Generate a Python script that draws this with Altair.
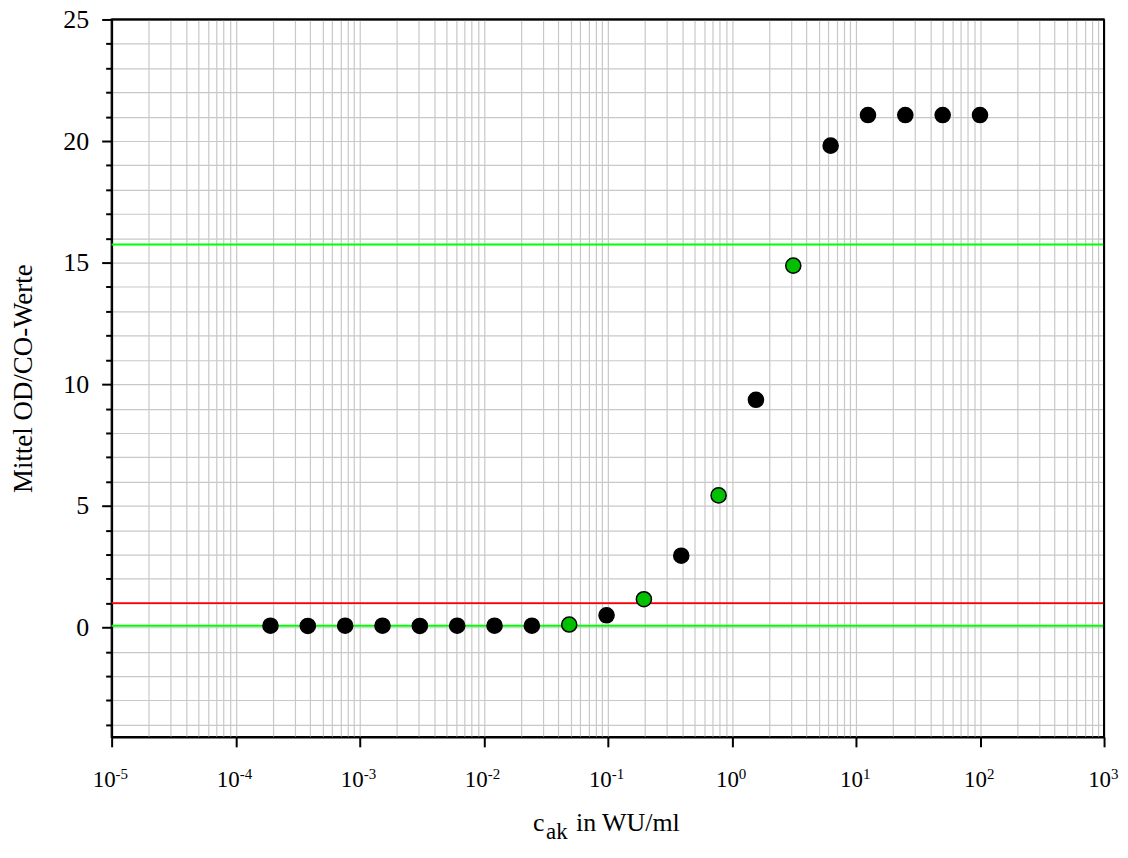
import altair as alt
import pandas as pd

# ---- data ----
conc = [100, 50, 25, 12.5, 6.25, 3.125, 1.5625, 0.78125, 0.390625, 0.1953125,
        0.09765625, 0.048828125, 0.0244140625, 0.01220703125, 0.006103515625,
        0.0030517578125, 0.00152587890625, 0.000762939453125,
        0.0003814697265625, 0.00019073486328125]
mean_od = [21.07, 21.07, 21.07, 21.07, 19.81, 14.88, 9.36, 5.43, 2.95, 1.16,
           0.50, 0.12, 0.07, 0.07, 0.07, 0.06, 0.07, 0.07, 0.06, 0.07]
point_fill = ["black", "black", "black", "black", "black", "#00c000", "black",
              "#00c000", "black", "#00c000", "black", "#00c000", "black", "black",
              "black", "black", "black", "black", "black", "black"]

thr_values = [15.75, 1.0, 0.07]
thr_colors = ["#00ff00", "#ff0000", "#00ff00"]

decades = [-5, -4, -3, -2, -1, 0, 1, 2, 3]

# ---- tables ----
pts = pd.DataFrame({"c": conc, "y": mean_od, "fill": point_fill})
thr = pd.DataFrame({"y": thr_values, "color": thr_colors})
lab = pd.DataFrame({"x": [10.0 ** e for e in decades],
                    "base": ["10"] * len(decades),
                    "exp": [str(e) for e in decades],
                    "neg": [e < 0 for e in decades]})

grid_vals = [m * 10.0 ** k for k in range(-5, 3) for m in range(1, 10)] + [1000.0]
y_vals = list(range(-4, 26))

FONT = "Liberation Serif"
W, H = 996, 720

xscale = alt.Scale(type="log", domain=[1e-5, 1e3], nice=False)
yscale = alt.Scale(domain=[-4.5, 25], nice=False, zero=False)

x_axis = alt.Axis(
    values=grid_vals, labels=False, title="", grid=True,
    gridColor="#c8c8c8", gridWidth=1.2,
    domainColor="black", domainWidth=2,
    tickColor="black", tickWidth=2, tickSize=10,
    tickOpacity={"condition": {
        "test": "abs(log(datum.value)/LN10 - round(log(datum.value)/LN10)) < 1e-6",
        "value": 1}, "value": 0},
)
y_axis = alt.Axis(
    values=y_vals, grid=True, gridColor="#c8c8c8", gridWidth=1.2,
    domainColor="black", domainWidth=2,
    tickColor="black", tickWidth=2,
    tickSize={"condition": {"test": "datum.value % 5 === 0", "value": 10}, "value": 6},
    labelExpr="datum.value % 5 === 0 ? datum.label : ''",
    labelFont=FONT, labelFontSize=26, labelColor="black", labelPadding=13,
    title="Mittel OD/CO-Werte", titleFont=FONT, titleFontSize=27,
    titleFontWeight="normal", titleColor="black", titlePadding=25,
)

rules = alt.Chart(thr).mark_rule(strokeWidth=2).encode(
    y=alt.Y("y:Q", scale=yscale, axis=y_axis),
    color=alt.Color("color:N", scale=None),
)

points = alt.Chart(pts).mark_point(filled=True, size=230, stroke="black",
                                   strokeWidth=1.5, opacity=1).encode(
    x=alt.X("c:Q", scale=xscale, axis=x_axis),
    y=alt.Y("y:Q", scale=yscale, axis=y_axis),
    fill=alt.Fill("fill:N", scale=None),
)

# plot frame (top and right border)
frame_df = pd.DataFrame({"side": ["top", "right"]})
frame_top = alt.Chart(frame_df[frame_df.side == "top"]).mark_rule(
    color="black", strokeWidth=2).encode(
    x=alt.value(0), x2=alt.value(W), y=alt.value(0))
frame_right = alt.Chart(frame_df[frame_df.side == "right"]).mark_rule(
    color="black", strokeWidth=2).encode(
    x=alt.value(W), y=alt.value(0), y2=alt.value(H))


def tick_text(neg, dx):
    d = lab[lab["neg"] == neg]
    ten = alt.Chart(d).mark_text(font=FONT, fontSize=23, align="right",
                                 baseline="alphabetic", dx=dx, color="black").encode(
        x=alt.X("x:Q", scale=xscale, axis=x_axis),
        y=alt.value(770),
        text="base:N",
    )
    ex = alt.Chart(d).mark_text(font=FONT, fontSize=15, align="left",
                                baseline="alphabetic", dx=dx, color="black").encode(
        x=alt.X("x:Q", scale=xscale, axis=x_axis),
        y=alt.value(762),
        text="exp:N",
    )
    return [ten, ex]


title_df = pd.DataFrame({"t": ["c", "ak", "in WU/ml"]})
t_c = alt.Chart(title_df[title_df.t == "c"]).mark_text(
    font=FONT, fontSize=26, align="left", baseline="alphabetic", color="black").encode(
    x=alt.value(423), y=alt.value(814), text="t:N")
t_ak = alt.Chart(title_df[title_df.t == "ak"]).mark_text(
    font=FONT, fontSize=23, align="left", baseline="alphabetic", color="black").encode(
    x=alt.value(436), y=alt.value(822), text="t:N")
t_in = alt.Chart(title_df[title_df.t == "in WU/ml"]).mark_text(
    font=FONT, fontSize=26, align="left", baseline="alphabetic", color="black").encode(
    x=alt.value(466), y=alt.value(814), text="t:N")

layers = ([rules, points, frame_top, frame_right]
          + tick_text(True, 4) + tick_text(False, 7) + [t_c, t_ak, t_in])

chart = alt.layer(*layers).properties(
    width=W, height=H,
    background="white",
    autosize=alt.AutoSizeParams(type="none"),
    padding={"left": 104, "top": 10, "right": 16, "bottom": 106},
).configure_view(stroke="black", strokeWidth=2)

chart.save("out.html", embed_options={"renderer": "svg", "actions": False})
